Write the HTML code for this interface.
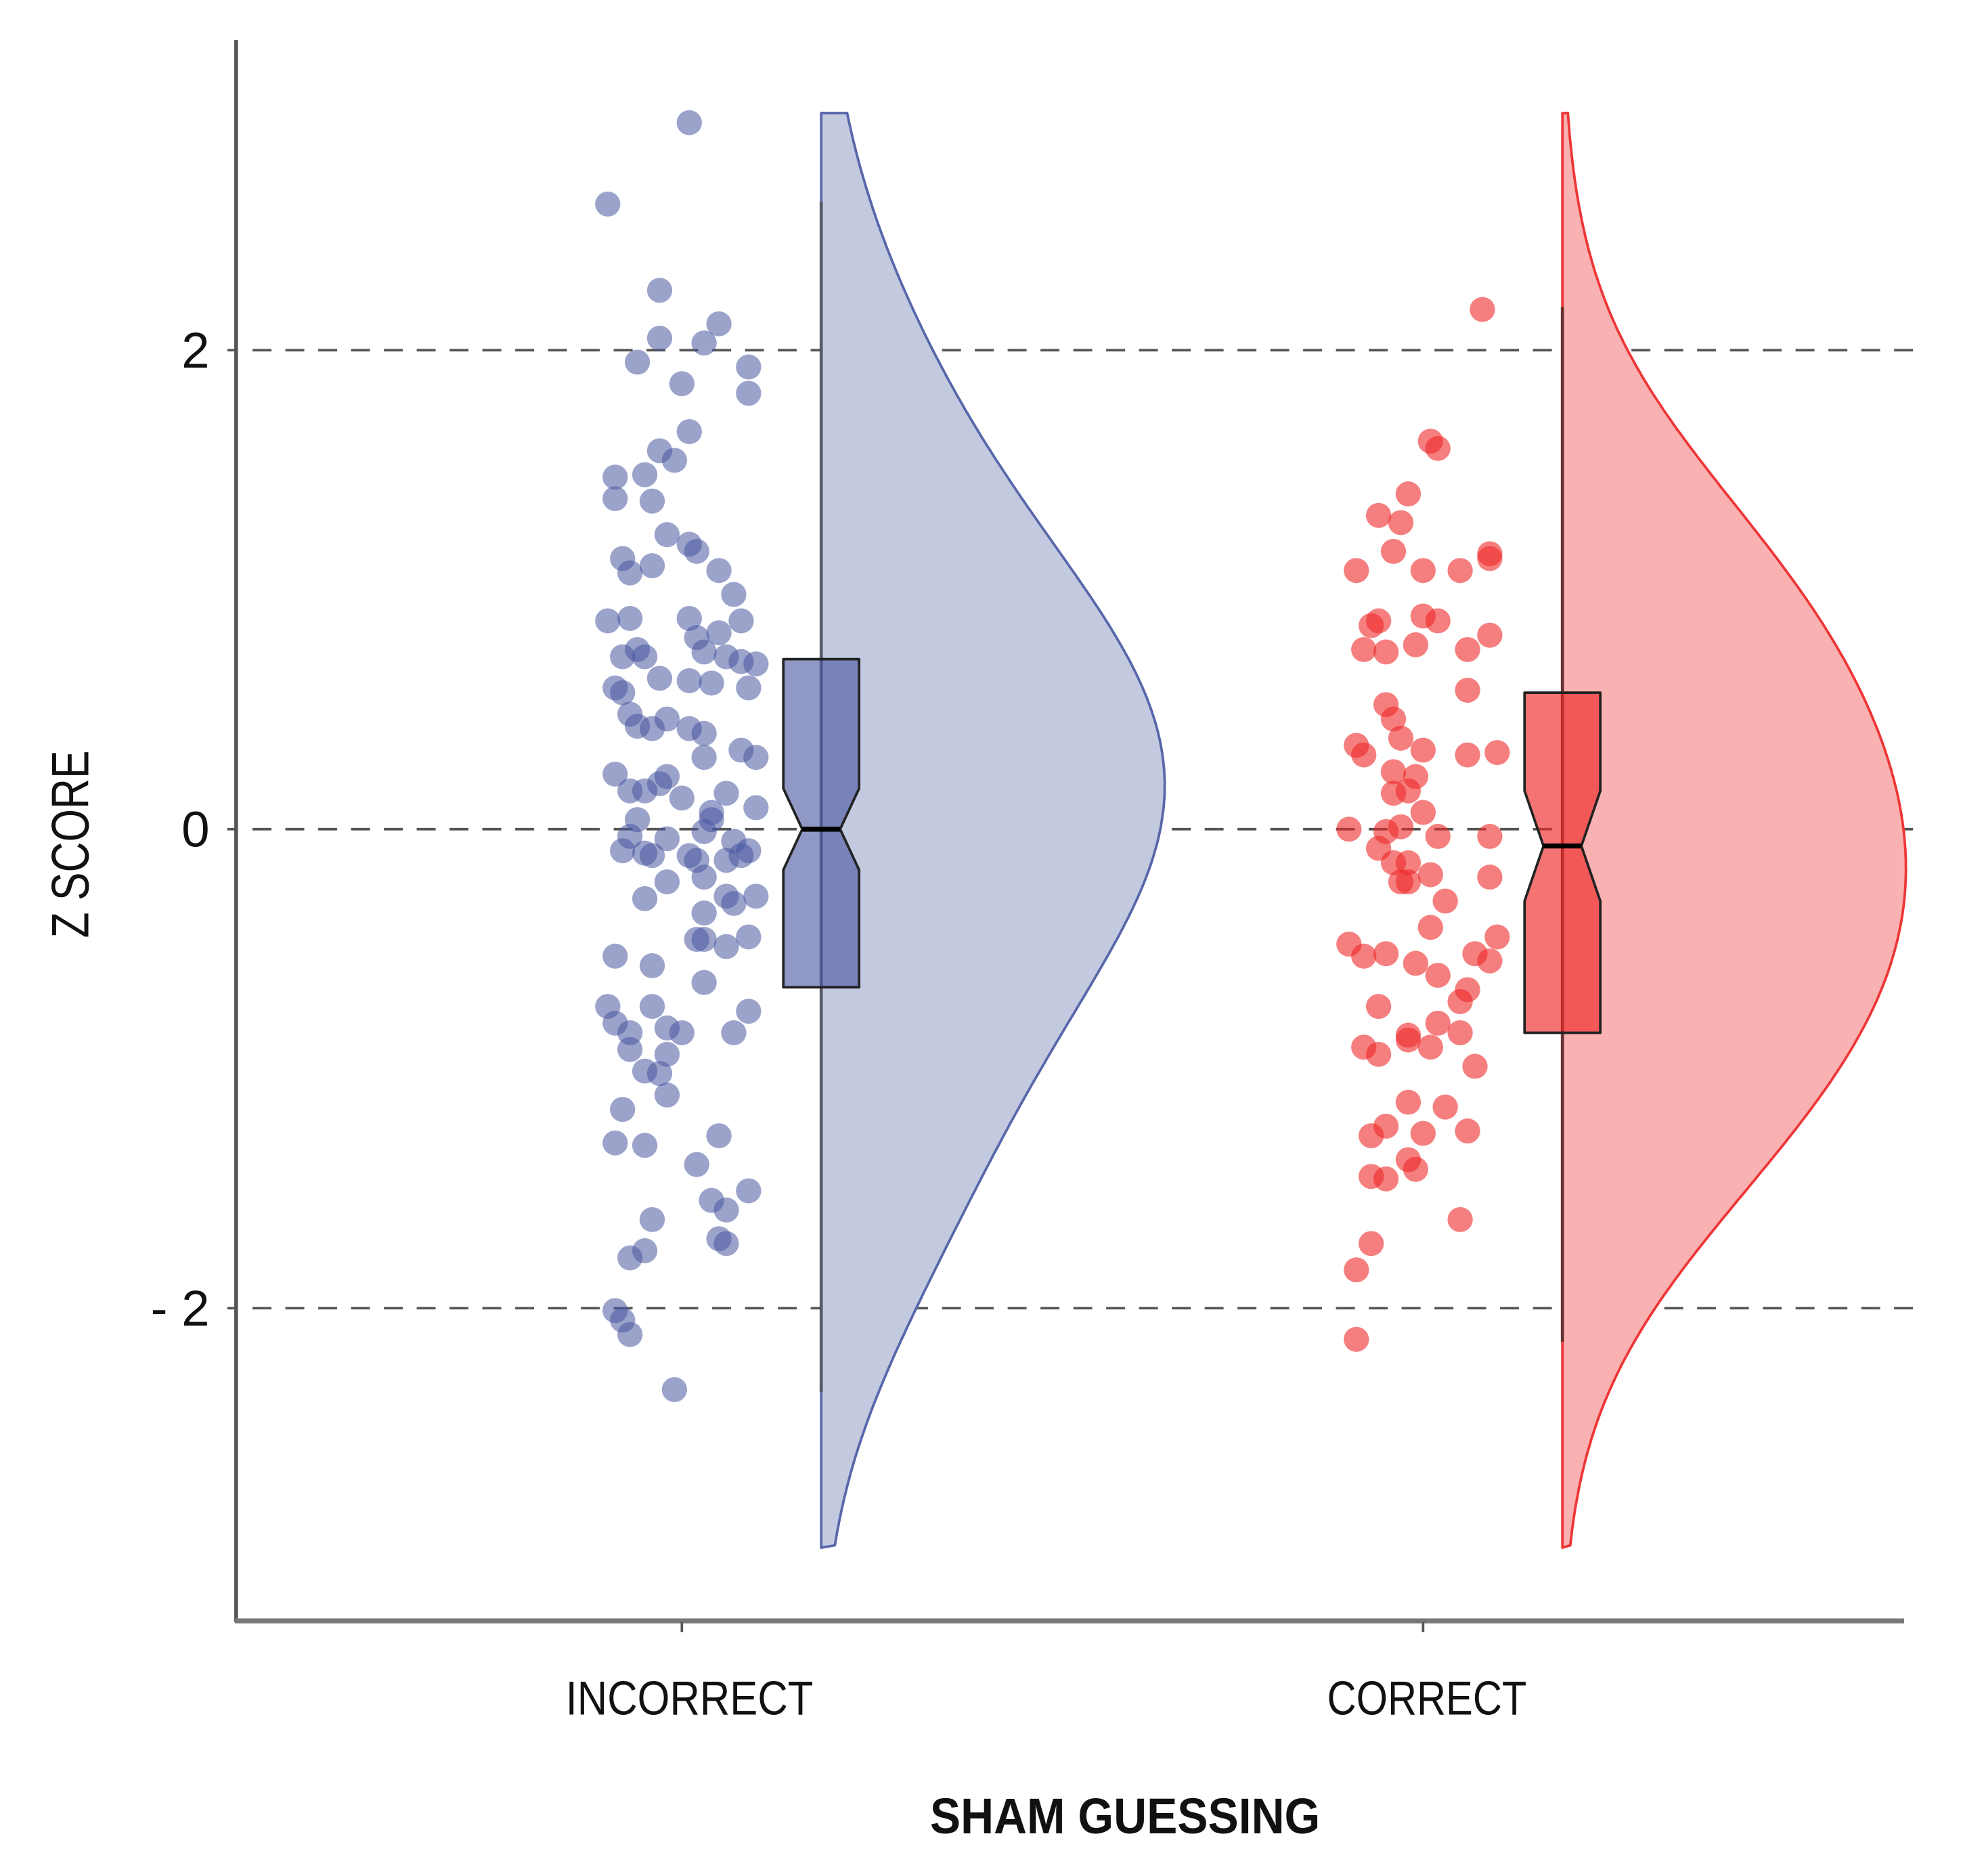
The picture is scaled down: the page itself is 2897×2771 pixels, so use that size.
<!DOCTYPE html>
<html><head><meta charset="utf-8"><style>
html,body{margin:0;padding:0;background:#fff;}
svg{display:block;}
text{font-family:"Liberation Sans",sans-serif;fill:#111;}
</style></head><body>
<svg id="chart" width="2897" height="2771" viewBox="0 0 1553 1500" preserveAspectRatio="none" xmlns="http://www.w3.org/2000/svg">
<g id="grid"></g>
<g id="violins"></g>
<g id="points"></g>
<g id="boxes"></g>
<g id="axes">
<line x1="187" y1="32" x2="187" y2="1297" stroke="#555" stroke-width="3"/>
<line x1="186" y1="1296" x2="1508" y2="1296" stroke="#777" stroke-width="4"/>
</g>
<g id="labels"></g>
<text transform="translate(70,675) rotate(-90)" text-anchor="middle" font-size="42" textLength="150" lengthAdjust="spacingAndGlyphs">Z SCORE</text>
<text x="891" y="1466" text-anchor="middle" font-size="40" font-weight="bold" textLength="309" lengthAdjust="spacingAndGlyphs">SHAM GUESSING</text>
</svg>
<script>
const categories = ["INCORRECT", "CORRECT"];
const yTicks = [2, 0, -2];
const yTickLabels = ["2", "0", "- 2"];
const incorrectZ = [2.95,2.61,2.25,2.11,2.05,2.03,1.95,1.93,1.86,1.82,1.66,1.58,1.54,1.47,1.48,1.38,1.37,1.23,1.19,1.16,1.13,1.10,1.07,1.08,0.98,0.87,0.88,0.88,0.87,0.80,0.82,0.72,0.75,0.72,0.74,0.72,0.70,0.69,0.63,0.62,0.61,0.59,0.59,0.57,0.48,0.46,0.43,0.42,0.42,0.40,0.33,0.30,0.30,0.23,0.22,0.16,0.16,0.19,0.15,0.13,0.09,0.07,0.04,0.04,-0.01,-0.03,-0.04,-0.05,-0.09,-0.09,-0.10,-0.11,-0.11,-0.13,-0.13,-0.11,-0.22,-0.20,-0.28,-0.28,-0.29,-0.31,-0.35,-0.46,-0.45,-0.49,-0.46,-0.53,-0.57,-0.64,-0.74,-0.74,-0.81,-0.85,-0.83,-0.85,-0.76,-0.85,-0.92,-0.94,-1.01,-1.02,-1.11,-1.17,-1.28,-1.31,-1.32,-1.40,-1.51,-1.55,-1.59,-1.63,-1.71,-1.73,-1.79,-1.76,-2.01,-2.05,-2.11,-2.34];
const incorrectJitter = [0.01,-0.10,-0.03,0.05,-0.03,0.03,-0.06,0.09,0.00,0.09,0.01,-0.03,-0.01,-0.09,-0.05,-0.09,-0.04,-0.02,0.01,0.02,-0.08,-0.04,-0.07,0.05,0.07,-0.10,-0.07,0.01,0.08,0.02,0.05,-0.08,-0.06,-0.05,0.03,0.06,0.08,0.10,-0.03,0.01,0.04,0.09,-0.09,-0.08,-0.07,-0.02,-0.06,-0.04,0.01,0.03,0.08,0.10,0.03,-0.09,-0.02,-0.07,-0.05,-0.03,0.06,0.00,0.10,0.04,-0.06,0.04,0.03,-0.07,-0.02,0.07,0.09,-0.08,-0.05,-0.04,0.01,0.02,0.06,0.08,-0.02,0.03,0.06,0.10,-0.05,0.07,0.03,0.03,0.09,0.06,0.02,-0.09,-0.04,0.03,-0.10,-0.04,-0.09,-0.07,-0.02,0.00,0.09,0.07,-0.07,-0.02,-0.05,-0.03,-0.02,-0.08,0.05,-0.09,-0.05,0.02,0.09,0.04,0.06,-0.04,0.05,0.06,-0.07,-0.05,-0.09,-0.08,-0.07,-0.01];
const correctZ = [2.17,1.62,1.59,1.40,1.31,1.28,1.16,1.13,1.15,1.08,1.08,1.08,0.85,0.87,0.89,0.87,0.81,0.75,0.74,0.77,0.75,0.58,0.52,0.46,0.35,0.31,0.38,0.33,0.31,0.32,0.24,0.22,0.15,0.16,0.07,0.00,-0.01,0.01,-0.03,-0.03,-0.08,-0.14,-0.14,-0.22,-0.22,-0.19,-0.30,-0.20,-0.41,-0.48,-0.52,-0.53,-0.56,-0.61,-0.45,-0.52,-0.55,-0.67,-0.72,-0.74,-0.81,-0.86,-0.85,-0.91,-0.94,-0.88,-0.91,-0.99,-1.14,-1.16,-1.24,-1.28,-1.27,-1.26,-1.38,-1.42,-1.45,-1.46,-1.63,-1.73,-1.84,-2.13];
const correctJitter = [0.08,0.01,0.02,-0.02,-0.06,-0.03,-0.04,0.09,0.09,-0.09,0.00,0.05,-0.07,-0.06,0.00,0.02,0.09,-0.08,-0.05,-0.01,0.06,0.06,-0.05,-0.04,-0.09,-0.08,-0.03,0.00,0.06,0.10,-0.04,-0.01,-0.04,-0.02,0.00,-0.10,-0.05,-0.03,0.02,0.09,-0.06,-0.04,-0.02,-0.03,-0.02,0.01,0.03,0.09,0.01,-0.10,-0.05,-0.08,-0.01,0.02,0.10,0.07,0.09,0.06,0.05,-0.06,0.02,-0.02,0.05,-0.08,-0.06,-0.02,0.01,0.07,-0.02,0.03,-0.05,-0.07,0.00,0.06,-0.02,-0.01,-0.07,-0.05,0.05,-0.07,-0.09,-0.09];
const boxQ1 = [-0.66, -0.85];
const boxQ3 = [0.71, 0.57];
const boxMedian = [0.00, -0.07];
const whiskerLow = [-2.35, -2.14];
const whiskerHigh = [2.62, 2.18];
const notchHalf = [0.17, 0.23];
const violinTop = [2.99, 2.99];
const violinBottom = [-3.00, -3.00];

const NS = "http://www.w3.org/2000/svg";
const X0 = 540, XSTEP = 587;
function xCat(i){ return X0 + XSTEP * i; }
function xOff(i, d){ return xCat(i) + XSTEP * d; }
function yZ(z){ return 663 - 191.5 * z; }
function mk(tag, attrs, parent){ const e = document.createElementNS(NS, tag); for (const k in attrs) e.setAttribute(k, attrs[k]); parent.appendChild(e); return e; }

const grid = document.getElementById('grid');
yTicks.forEach((t, i) => {
  const l = mk('line', {x1: 200, x2: 1525, y1: yZ(t), y2: yZ(t), stroke: '#555', 'stroke-width': 2, 'stroke-dasharray': '15 11'}, grid);
  
  
  const tk = mk('line', {x1: 180, x2: 187, y1: yZ(t), y2: yZ(t), stroke: '#555', 'stroke-width': 2}, grid);
  
  
});

const labels = document.getElementById('labels');
yTicks.forEach((t, i) => {
  const tx = mk('text', {x: 166, y: yZ(t) + 14, 'text-anchor': 'end', 'font-size': 40}, labels);
  tx.textContent = yTickLabels[i];
  
  
});
categories.forEach((c, i) => {
  const tk = mk('line', {x1: xCat(i), x2: xCat(i), y1: 1297, y2: 1305, stroke: '#555', 'stroke-width': 2}, labels);
  
  
  const tx = mk('text', {x: xCat(i) + 6 - i * 3, y: 1371, 'text-anchor': 'middle', 'font-size': 38, textLength: i === 0 ? 196 : 158, lengthAdjust: 'spacingAndGlyphs'}, labels);
  tx.textContent = c;
  
  
});

const series = [
  {z: incorrectZ, j: incorrectJitter, pt: 'rgba(72,88,160,0.55)', vf: '#c3c9df', vs: '#5866aa', bf: 'rgba(70,85,160,0.6)', wc: '#555a66'},
  {z: correctZ, j: correctJitter, pt: 'rgba(238,40,40,0.6)', vf: '#f9b1b2', vs: '#ee3535', bf: 'rgba(238,40,40,0.65)', wc: '#6a3030'}
];
const VOFF = 0.188, VMAX = 272, BW = 0.6, BOXHALF = 30, NOTCHIN = 15;

const violinG = document.getElementById('violins');
const pointG = document.getElementById('points');
const boxG = document.getElementById('boxes');

series.forEach((s, i) => {
  const cx = xOff(i, VOFF);
  const zs = [];
  for (let z = violinTop[i]; z >= violinBottom[i] - 1e-9; z -= 0.02) zs.push(z);
  const dens = zs.map(z => s.z.reduce((a, v) => a + Math.exp(-0.5 * ((z - v) / BW) ** 2), 0));
  const mx = Math.max(...dens);
  let d = 'M' + cx + ',' + yZ(violinTop[i]);
  zs.forEach((z, k) => { d += ' L' + (cx + VMAX * dens[k] / mx).toFixed(1) + ',' + yZ(z).toFixed(1); });
  d += ' L' + cx + ',' + yZ(violinBottom[i]) + ' Z';
  const v = mk('path', {d: d, fill: s.vf, stroke: s.vs, 'stroke-width': 2, 'stroke-linejoin': 'round'}, violinG);
  
  

  s.z.forEach((z, k) => {
    const c = mk('circle', {cx: xOff(i, s.j[k] || 0), cy: yZ(z), r: 10, fill: s.pt}, pointG);
    
    
  });

  const w = mk('line', {x1: cx, x2: cx, y1: yZ(whiskerHigh[i]), y2: yZ(whiskerLow[i]), stroke: s.wc, 'stroke-width': 2.5}, boxG);
  
  

  const L = cx - BOXHALF, R = cx + BOXHALF;
  const yq3 = yZ(boxQ3[i]), yq1 = yZ(boxQ1[i]), ym = yZ(boxMedian[i]);
  const yn1 = yZ(boxMedian[i] + notchHalf[i]), yn2 = yZ(boxMedian[i] - notchHalf[i]);
  const bd = `M${L},${yq3} L${R},${yq3} L${R},${yn1} L${R - NOTCHIN},${ym} L${R},${yn2} L${R},${yq1} L${L},${yq1} L${L},${yn2} L${L + NOTCHIN},${ym} L${L},${yn1} Z`;
  const b = mk('path', {d: bd, fill: s.bf, stroke: '#222', 'stroke-width': 2, 'stroke-linejoin': 'round'}, boxG);
  
  
  const ml = mk('line', {x1: L + NOTCHIN, x2: R - NOTCHIN, y1: ym, y2: ym, stroke: '#000', 'stroke-width': 4}, boxG);
  
  
});
</script>
</body></html>
